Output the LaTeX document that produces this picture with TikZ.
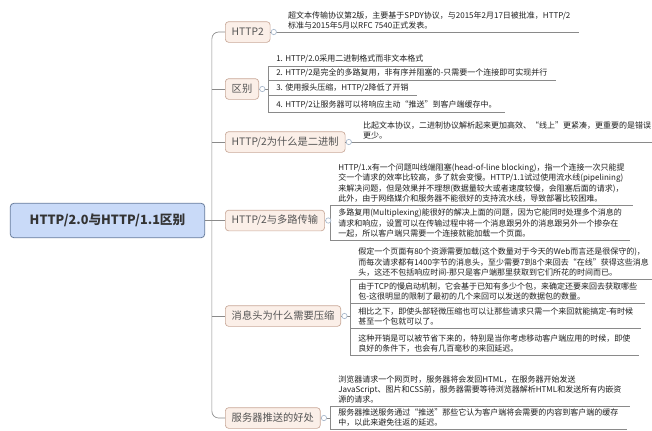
\documentclass[tikz,border=0pt]{standalone}
\usepackage{fontspec}
\setmainfont{Noto Sans CJK SC}
\usetikzlibrary{positioning}

\definecolor{rootfill}{HTML}{C9DAF8}
\definecolor{rootline}{HTML}{6B7F9E}
\definecolor{topicfill}{HTML}{FBEFE8}
\definecolor{topicline}{HTML}{C9A999}
\definecolor{topictext}{HTML}{555555}
\definecolor{linegray}{HTML}{8A8A8A}
\definecolor{knobline}{HTML}{A9B9CC}

\begin{document}
\begin{tikzpicture}[x=0.75pt,y=-0.75pt,
			root/.style={rectangle, draw=rootline, fill=rootfill, rounded corners=3pt, line width=0.6pt, minimum width=146pt, minimum height=26pt, font=\fontsize{9.5}{11}\selectfont\bfseries, text=black!80},
			topic/.style={rectangle, draw=topicline, fill=topicfill, rounded corners=2.5pt, line width=0.5pt, minimum height=15.5pt, inner xsep=4.8pt, anchor=west, font=\fontsize{7.7}{9}\selectfont, text=topictext},
			detail/.style={align=left, inner xsep=6pt, inner ysep=2pt, anchor=south west, font=\fontsize{6}{7.6}\selectfont, text=black!88},
			branch/.style={draw=linegray, line width=0.5pt},
			knob/.style={circle, draw=knobline, fill=white, line width=0.5pt, inner sep=0pt, minimum size=4pt}
		]
		\fill[white] (0,0) rectangle (652,430);
		\useasboundingbox (0,0) rectangle (652,430);

		% Root and topics
		\node[root] (root) at (107.5,220.5) {HTTP/2.0与HTTP/1.1区别};
		\coordinate (spine) at ([xshift=5pt]root.east);
		\node[topic] (t1) at (225,32) {HTTP2};
		\node[topic] (t2) at (225,89) {区别};
		\node[topic] (t3) at (225,142) {HTTP/2为什么是二进制};
		\node[topic] (t4) at (225,220.5) {HTTP/2与多路传输};
		\node[topic] (t5) at (225,316) {消息头为什么需要压缩};
		\node[topic] (t6) at (225,418) {服务器推送的好处};

		\draw[branch, rounded corners=5pt] (t1.west) -| (spine) |- (t6.west);
		\draw[branch] (root.east) -- (t4.west);
		\draw[branch] (t2.west -| spine) -- (t2.west);
		\draw[branch] (t3.west -| spine) -- (t3.west);
		\draw[branch] (t5.west -| spine) -- (t5.west);

		% HTTP2
		\node[detail, right=7pt of t1.east, anchor=south west] (d1) {超文本传输协议第2版，主要基于SPDY协议，与2015年2月17日被批准，HTTP/2\\标准与2015年5月以RFC 7540正式发表。};
		\draw[branch] (t1.east) -- (d1.south east);

		% 区别
		\node[detail] (d21) at (268,66) {1. HTTP/2.0采用二进制格式而非文本格式};
		\node[detail] (d22) at (268,80) {2. HTTP/2是完全的多路复用，非有序并阻塞的-只需要一个连接即可实现并行};
		\node[detail] (d23) at (268,95) {3. 使用报头压缩，HTTP/2降低了开销};
		\node[detail] (d24) at (268,112) {4. HTTP/2让服务器可以将响应主动“推送”到客户端缓存中。};
		\draw[branch] (d21.south west) -- (d24.south west);
		\foreach \d in {d21,d22,d23,d24}
			\draw[branch] (\d.south west) -- (\d.south east);
		\draw[branch] (t2.east) -- (t2.east -| d21.south west);

		% HTTP/2为什么是二进制
		\node[detail, right=7pt of t3.east, anchor=south west] (d3) {比起文本协议，二进制协议解析起来更加高效、“线上”更紧凑，更重要的是错误\\更少。};
		\draw[branch] (t3.east) -- (d3.south east);

		% HTTP/2与多路传输
		\node[detail] (d41) at (330,205) {HTTP/1.x有一个问题叫线端阻塞(head-of-line blocking)，指一个连接一次只能提\\交一个请求的效率比较高，多了就会变慢。HTTP/1.1试过使用流水线(pipelining)\\来解决问题，但是效果并不理想(数据量较大或者速度较慢，会阻塞后面的请求)，\\此外，由于网络媒介和服务器不能很好的支持流水线，导致部署比较困难。};
		\node[detail] (d42) at (330,240) {多路复用(Multiplexing)能很好的解决上面的问题，因为它能同时处理多个消息的\\请求和响应，设置可以在传输过程中将一个消息跟另外的消息跟另外一个掺杂在\\一起，所以客户端只需要一个连接就能加载一个页面。};
		\draw[branch] (d41.south west) -- (d42.south west);
		\foreach \d in {d41,d42}
			\draw[branch] (\d.south west) -- (\d.south east);
		\draw[branch] (t4.east) -- (t4.east -| d41.south west);

		% 消息头为什么需要压缩
		\node[detail] (d51) at (350,279) {假定一个页面有80个资源需要加载(这个数量对于今天的Web而言还是很保守的)，\\而每次请求都有1400字节的消息头，至少需要7到8个来回去“在线”获得这些消息\\头，这还不包括响应时间-那只是客户端那里获取到它们所花的时间而已。};
		\node[detail] (d52) at (350,303) {由于TCP的慢启动机制，它会基于已知有多少个包，来确定还要来回去获取哪些\\包-这很明显的限制了最初的几个来回可以发送的数据包的数量。};
		\node[detail] (d53) at (350,328) {相比之下，即使头部轻微压缩也可以让那些请求只需一个来回就能搞定-有时候\\甚至一个包就可以了。};
		\node[detail] (d54) at (350,355) {这种开销是可以被节省下来的，特别是当你考虑移动客户端应用的时候，即使\\良好的条件下，也会有几百毫秒的来回延迟。};
		\draw[branch] (d51.south west) -- (d54.south west);
		\foreach \d in {d51,d52,d53,d54}
			\draw[branch] (\d.south west) -- (\d.south east);
		\draw[branch] (t5.east) -- (t5.east -| d51.south west);

		% 服务器推送的好处
		\node[detail] (d61) at (330,406) {浏览器请求一个网页时，服务器将会发回HTML，在服务器开始发送\\JavaScript、图片和CSS前，服务器需要等待浏览器解析HTML和发送所有内嵌资\\源的请求。};
		\node[detail] (d62) at (330,429) {服务器推送服务通过“推送”那些它认为客户端将会需要的内容到客户端的缓存\\中，以此来避免往返的延迟。};
		\draw[branch] (d61.south west) -- (d62.south west);
		\foreach \d in {d61,d62}
			\draw[branch] (\d.south west) -- (\d.south east);
		\draw[branch] (t6.east) -- (t6.east -| d61.south west);

		% collapse knobs
		\foreach \t in {t1,t2,t3,t4,t5,t6}
			\node[knob] at ([xshift=2.5pt]\t.east) {};

	\end{tikzpicture}
\end{document}
